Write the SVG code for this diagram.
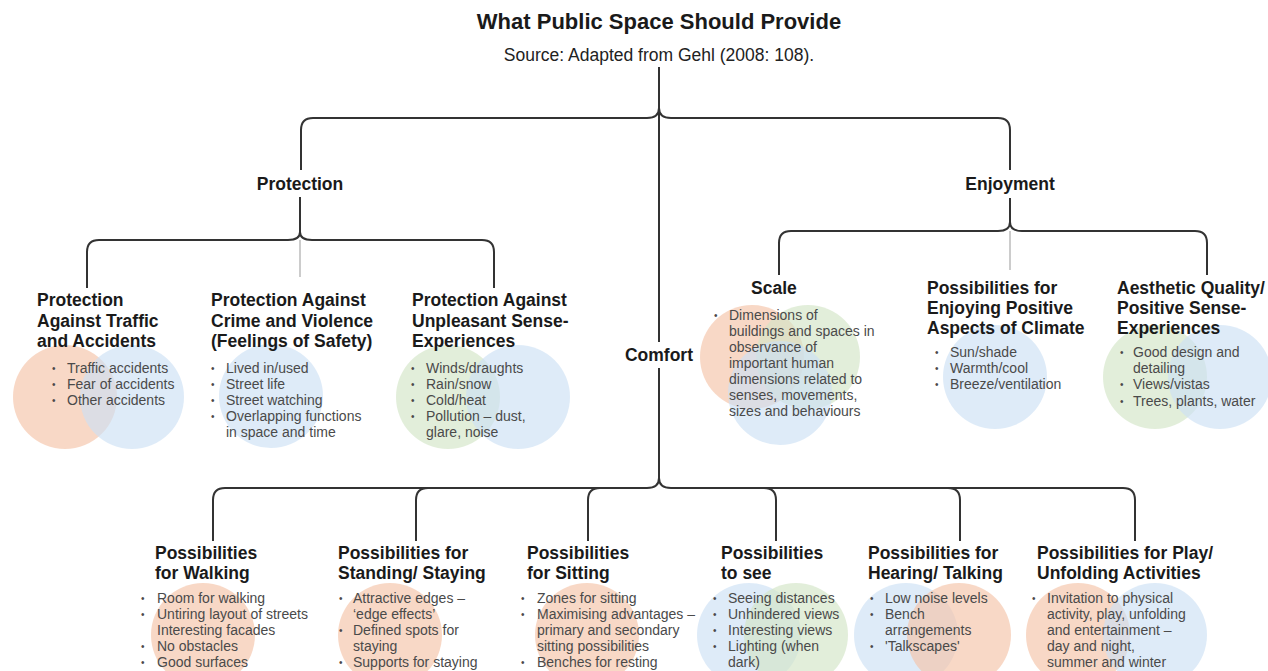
<svg xmlns="http://www.w3.org/2000/svg" width="1268" height="671" viewBox="0 0 1268 671">
<style>
text{font-family:"Liberation Sans",Arial,sans-serif}
.t{font-size:22px;font-weight:bold;fill:#1a1a1a;text-anchor:middle}
.s{font-size:17.5px;fill:#222;text-anchor:middle}
.l1{font-size:17.5px;font-weight:bold;fill:#1a1a1a;text-anchor:middle}
.h{font-size:17.5px;font-weight:bold;fill:#1a1a1a}
.b{font-size:14px;fill:#4a4a4a}
.d{font-size:10px;fill:#4a4a4a}
.o{fill:#f4c3a8;opacity:.65}
.bl{fill:#cce0f4;opacity:.65}
.g{fill:#d2e5c6;opacity:.65}
.br{fill:none;stroke:#333;stroke-width:2}
.thin{fill:none;stroke:#999;stroke-width:1}
</style>
<rect width="1268" height="671" fill="#fff"/>
<g id="connectors">
  <path class="br" d="M659 67 V342 M659 368 V478"/>
  <path class="br" d="M659 108 Q659 118 647 118 H313 Q301 118 301 130 V170"/>
  <path class="br" d="M659 108 Q659 118 671 118 H998 Q1010 118 1010 130 V170"/>
  <path class="br" d="M300 197 V232 Q300 240 288 240 H99 Q87 240 87 252 V288"/>
  <path class="br" d="M300 232 Q300 240 312 240 H482 Q494 240 494 252 V288"/>
  <path class="thin" d="M300 240 V277"/>
  <path class="br" d="M1010 198 V222 Q1010 231 998 231 H791 Q779 231 779 243 V275"/>
  <path class="br" d="M1010 222 Q1010 231 1022 231 H1195 Q1207 231 1207 243 V275"/>
  <path class="thin" d="M1010 231 V270"/>
  <path class="br" d="M659 478 Q659 488 647 488 H225 Q213 488 213 500 V541"/>
  <path class="br" d="M659 478 Q659 488 671 488 H1123 Q1135 488 1135 500 V541"/>
  <path class="br" d="M428 488 Q416 488 416 500 V541"/>
  <path class="br" d="M600 488 Q588 488 588 500 V541"/>
  <path class="br" d="M764 488 Q776 488 776 500 V541"/>
  <path class="br" d="M948 488 Q960 488 960 500 V541"/>
</g>
<g id="title">
  <text class="t" x="659" y="29">What Public Space Should Provide</text>
  <text class="s" x="659" y="61">Source: Adapted from Gehl (2008: 108).</text>
</g>
<g id="protection"><text class="l1" x="300" y="190">Protection</text></g>
<g id="enjoyment"><text class="l1" x="1010" y="190">Enjoyment</text></g>
<g id="comfort"><text class="l1" x="659" y="361">Comfort</text></g>

<g id="traffic">
  <circle class="o" cx="65" cy="397" r="52"/>
  <circle class="bl" cx="132" cy="397" r="52"/>
  <text class="h" x="37" y="306">Protection</text>
  <text class="h" x="37" y="327">Against Traffic</text>
  <text class="h" x="37" y="347">and Accidents</text>
  <text class="d" x="52" y="372">•</text><text class="b" x="67" y="373">Traffic accidents</text>
  <text class="d" x="52" y="388">•</text><text class="b" x="67" y="389">Fear of accidents</text>
  <text class="d" x="52" y="404">•</text><text class="b" x="67" y="405">Other accidents</text>
</g>
<g id="crime">
  <circle class="bl" cx="271" cy="396" r="52"/>
  <text class="h" x="211" y="306">Protection Against</text>
  <text class="h" x="211" y="327">Crime and Violence</text>
  <text class="h" x="211" y="347">(Feelings of Safety)</text>
  <text class="d" x="211" y="372">•</text><text class="b" x="226" y="373">Lived in/used</text>
  <text class="d" x="211" y="388">•</text><text class="b" x="226" y="389">Street life</text>
  <text class="d" x="211" y="404">•</text><text class="b" x="226" y="405">Street watching</text>
  <text class="d" x="211" y="420">•</text><text class="b" x="226" y="421">Overlapping functions</text>
  <text class="b" x="226" y="437">in space and time</text>
</g>
<g id="unpleasant">
  <circle class="g" cx="448" cy="397" r="52"/>
  <circle class="bl" cx="518" cy="397" r="52"/>
  <text class="h" x="412" y="306">Protection Against</text>
  <text class="h" x="412" y="327">Unpleasant Sense-</text>
  <text class="h" x="412" y="347">Experiences</text>
  <text class="d" x="411" y="372">•</text><text class="b" x="426" y="373">Winds/draughts</text>
  <text class="d" x="411" y="388">•</text><text class="b" x="426" y="389">Rain/snow</text>
  <text class="d" x="411" y="404">•</text><text class="b" x="426" y="405">Cold/heat</text>
  <text class="d" x="411" y="420">•</text><text class="b" x="426" y="421">Pollution – dust,</text>
  <text class="b" x="426" y="437">glare, noise</text>
</g>
<g id="scale">
  <circle class="o" cx="752" cy="357" r="52"/>
  <circle class="g" cx="808" cy="357" r="52"/>
  <circle class="bl" cx="780" cy="393" r="52"/>
  <text class="h" x="751" y="294">Scale</text>
  <text class="d" x="714" y="319">•</text><text class="b" x="729" y="320">Dimensions of</text>
  <text class="b" x="729" y="336">buildings and spaces in</text>
  <text class="b" x="729" y="352">observance of</text>
  <text class="b" x="729" y="368">important human</text>
  <text class="b" x="729" y="384">dimensions related to</text>
  <text class="b" x="729" y="400">senses, movements,</text>
  <text class="b" x="729" y="416">sizes and behaviours</text>
</g>
<g id="climate">
  <circle class="bl" cx="995" cy="377" r="52"/>
  <text class="h" x="927" y="294">Possibilities for</text>
  <text class="h" x="927" y="314">Enjoying Positive</text>
  <text class="h" x="927" y="334">Aspects of Climate</text>
  <text class="d" x="935" y="356">•</text><text class="b" x="950" y="357">Sun/shade</text>
  <text class="d" x="935" y="372">•</text><text class="b" x="950" y="373">Warmth/cool</text>
  <text class="d" x="935" y="388">•</text><text class="b" x="950" y="389">Breeze/ventilation</text>
</g>
<g id="aesthetic">
  <circle class="g" cx="1155" cy="377" r="52"/>
  <circle class="bl" cx="1220" cy="377" r="52"/>
  <text class="h" x="1117" y="294">Aesthetic Quality/</text>
  <text class="h" x="1117" y="314">Positive Sense-</text>
  <text class="h" x="1117" y="334">Experiences</text>
  <text class="d" x="1120" y="356">•</text><text class="b" x="1133" y="357">Good design and</text>
  <text class="b" x="1133" y="373">detailing</text>
  <text class="d" x="1120" y="388">•</text><text class="b" x="1133" y="389">Views/vistas</text>
  <text class="d" x="1120" y="405">•</text><text class="b" x="1133" y="406">Trees, plants, water</text>
</g>

<g id="walking">
  <circle class="o" cx="203" cy="635" r="52"/>
  <text class="h" x="155" y="559">Possibilities</text>
  <text class="h" x="155" y="579">for Walking</text>
  <text class="d" x="141" y="602">•</text><text class="b" x="157" y="603">Room for walking</text>
  <text class="d" x="141" y="618">•</text><text class="b" x="157" y="619">Untiring layout of streets</text>
  <text class="b" x="157" y="635">Interesting facades</text>
  <text class="d" x="141" y="650">•</text><text class="b" x="157" y="651">No obstacles</text>
  <text class="d" x="141" y="666">•</text><text class="b" x="157" y="667">Good surfaces</text>
</g>
<g id="standing">
  <circle class="o" cx="390" cy="635" r="52"/>
  <text class="h" x="338" y="559">Possibilities for</text>
  <text class="h" x="338" y="579">Standing/ Staying</text>
  <text class="d" x="339" y="602">•</text><text class="b" x="353" y="603">Attractive edges –</text>
  <text class="b" x="353" y="619">‘edge effects’</text>
  <text class="d" x="339" y="634">•</text><text class="b" x="353" y="635">Defined spots for</text>
  <text class="b" x="353" y="651">staying</text>
  <text class="d" x="339" y="666">•</text><text class="b" x="353" y="667">Supports for staying</text>
</g>
<g id="sitting">
  <circle class="o" cx="587" cy="635" r="52"/>
  <text class="h" x="527" y="559">Possibilities</text>
  <text class="h" x="527" y="579">for Sitting</text>
  <text class="d" x="521" y="602">•</text><text class="b" x="537" y="603">Zones for sitting</text>
  <text class="d" x="521" y="618">•</text><text class="b" x="537" y="619">Maximising advantages –</text>
  <text class="b" x="537" y="635">primary and secondary</text>
  <text class="b" x="537" y="651">sitting possibilities</text>
  <text class="d" x="521" y="666">•</text><text class="b" x="537" y="667">Benches for resting</text>
</g>
<g id="see">
  <circle class="bl" cx="749" cy="635" r="52"/>
  <circle class="g" cx="796" cy="635" r="52"/>
  <text class="h" x="721" y="559">Possibilities</text>
  <text class="h" x="721" y="579">to see</text>
  <text class="d" x="713" y="602">•</text><text class="b" x="728" y="603">Seeing distances</text>
  <text class="d" x="713" y="618">•</text><text class="b" x="728" y="619">Unhindered views</text>
  <text class="d" x="713" y="634">•</text><text class="b" x="728" y="635">Interesting views</text>
  <text class="d" x="713" y="650">•</text><text class="b" x="728" y="651">Lighting (when</text>
  <text class="b" x="728" y="667">dark)</text>
</g>
<g id="hearing">
  <circle class="bl" cx="906" cy="635" r="52"/>
  <circle class="o" cx="959" cy="635" r="52"/>
  <text class="h" x="868" y="559">Possibilities for</text>
  <text class="h" x="868" y="579">Hearing/ Talking</text>
  <text class="d" x="870" y="602">•</text><text class="b" x="885" y="603">Low noise levels</text>
  <text class="d" x="870" y="618">•</text><text class="b" x="885" y="619">Bench</text>
  <text class="b" x="885" y="635">arrangements</text>
  <text class="d" x="870" y="650">•</text><text class="b" x="885" y="651">'Talkscapes'</text>
</g>
<g id="play">
  <circle class="o" cx="1078" cy="635" r="52"/>
  <circle class="bl" cx="1155" cy="635" r="52"/>
  <text class="h" x="1037" y="559">Possibilities for Play/</text>
  <text class="h" x="1037" y="579">Unfolding Activities</text>
  <text class="d" x="1032" y="602">•</text><text class="b" x="1047" y="603">Invitation to physical</text>
  <text class="b" x="1047" y="619">activity, play, unfolding</text>
  <text class="b" x="1047" y="635">and entertainment –</text>
  <text class="b" x="1047" y="651">day and night,</text>
  <text class="b" x="1047" y="667">summer and winter</text>
</g>
</svg>
